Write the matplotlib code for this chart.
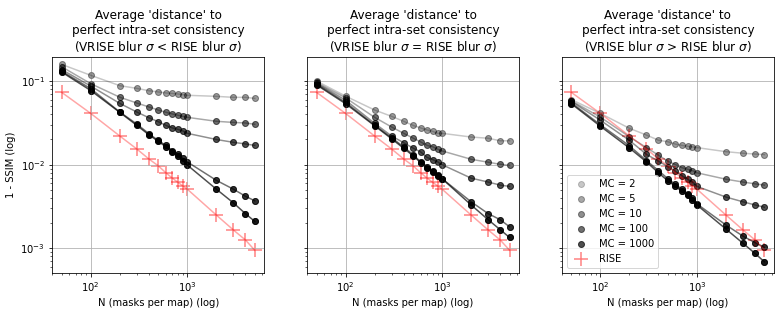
import matplotlib
matplotlib.use("Agg")
import matplotlib.pyplot as plt

N = [50, 100, 200, 300, 400, 500, 600, 700, 800, 900, 1000, 2000, 3000, 4000, 5000]

mc_labels = ["MC = 2", "MC = 5", "MC = 10", "MC = 100", "MC = 1000"]
mc_alphas = [0.22, 0.34, 0.44, 0.56, 0.69]

rise = [0.0732, 0.041, 0.022, 0.0154, 0.0117, 0.0097, 0.0080, 0.0069, 0.00615,
        0.00556, 0.0051, 0.0025, 0.00166, 0.00126, 0.00095]

# Panel 1: VRISE blur < RISE blur
p1_mc2 = [0.158, 0.117, 0.088, 0.0817, 0.0766, 0.074, 0.072, 0.071, 0.070, 0.0687, 0.0675, 0.0656, 0.0638, 0.0638, 0.062]
p1_mc5 = [0.148, 0.093, 0.064, 0.0546, 0.049, 0.045, 0.0423, 0.0404, 0.039, 0.0378, 0.0368, 0.033, 0.032, 0.0315, 0.0304]
p1_mc10 = [0.137, 0.087, 0.054, 0.0426, 0.0364, 0.0327, 0.0295, 0.0275, 0.0264, 0.0253, 0.0237, 0.020, 0.0185, 0.0177, 0.017]
p1_mc100 = [0.131, 0.081, 0.0426, 0.0306, 0.0235, 0.0195, 0.017, 0.0147, 0.0133, 0.0119, 0.0108, 0.0065, 0.0051, 0.0042, 0.0037]
p1_mc1000 = [0.128, 0.077, 0.0422, 0.0295, 0.0228, 0.019, 0.0164, 0.0143, 0.0127, 0.0112, 0.0099, 0.0051, 0.0035, 0.0026, 0.0021]

# Panel 2: VRISE blur = RISE blur
p2_mc2 = [0.100, 0.066, 0.045, 0.0378, 0.033, 0.0295, 0.0275, 0.026, 0.025, 0.0237, 0.0237, 0.0214, 0.0207, 0.0193, 0.0193]
p2_mc5 = [0.096, 0.063, 0.0368, 0.0282, 0.0237, 0.0208, 0.0187, 0.017, 0.0164, 0.0153, 0.0146, 0.0116, 0.0107, 0.0101, 0.0098]
p2_mc10 = [0.094, 0.059, 0.0312, 0.022, 0.0183, 0.0158, 0.0142, 0.0122, 0.0115, 0.0108, 0.0100, 0.0069, 0.0062, 0.0057, 0.0055]
p2_mc100 = [0.092, 0.0556, 0.0297, 0.021, 0.0163, 0.0132, 0.0108, 0.0095, 0.0083, 0.0075, 0.0068, 0.0036, 0.0026, 0.0022, 0.00181]
p2_mc1000 = [0.090, 0.0536, 0.0292, 0.0204, 0.0157, 0.0128, 0.0106, 0.0091, 0.0081, 0.0073, 0.0068, 0.0033, 0.0022, 0.00167, 0.00135]

# Panel 3: VRISE blur > RISE blur
p3_mc2 = [0.060, 0.041, 0.0272, 0.0226, 0.0196, 0.0188, 0.0176, 0.0170, 0.0166, 0.0163, 0.0160, 0.0143, 0.0137, 0.0134, 0.0132]
p3_mc5 = [0.058, 0.037, 0.0215, 0.0160, 0.0130, 0.0110, 0.0100, 0.0092, 0.0088, 0.0085, 0.0080, 0.0067, 0.0062, 0.0059, 0.0057]
p3_mc10 = [0.057, 0.034, 0.0195, 0.0133, 0.0110, 0.0095, 0.0083, 0.0074, 0.0067, 0.0062, 0.0055, 0.0041, 0.0036, 0.0033, 0.0031]
p3_mc100 = [0.055, 0.030, 0.0168, 0.0112, 0.0085, 0.0068, 0.0058, 0.0051, 0.0045, 0.0040, 0.0034, 0.0019, 0.0014, 0.00117, 0.00103]
p3_mc1000 = [0.0535, 0.0288, 0.0158, 0.0108, 0.0080, 0.0064, 0.0055, 0.0048, 0.0043, 0.0038, 0.0033, 0.0017, 0.00115, 0.00087, 0.00069]

titles = [
    "Average 'distance' to\nperfect intra-set consistency\n(VRISE blur $\\sigma$ < RISE blur $\\sigma$)",
    "Average 'distance' to\nperfect intra-set consistency\n(VRISE blur $\\sigma$ = RISE blur $\\sigma$)",
    "Average 'distance' to\nperfect intra-set consistency\n(VRISE blur $\\sigma$ > RISE blur $\\sigma$)",
]

panels = [
    [p1_mc2, p1_mc5, p1_mc10, p1_mc100, p1_mc1000],
    [p2_mc2, p2_mc5, p2_mc10, p2_mc100, p2_mc1000],
    [p3_mc2, p3_mc5, p3_mc10, p3_mc100, p3_mc1000],
]

DPI = 72
fig, axes = plt.subplots(1, 3, figsize=(779 / DPI, 315 / DPI), dpi=DPI, sharey=True)
fig.subplots_adjust(left=0.0668, right=0.9936, bottom=0.1333, top=0.819, wspace=0.2)

for ax, series, title in zip(axes, panels, titles):
    for ys, lab, a in zip(series, mc_labels, mc_alphas):
        ax.plot(N, ys, "-o", color="k", alpha=a, lw=1.5, ms=6)
        ax.scatter(N, ys, color="k", alpha=a, s=36, label=lab)
    ax.plot(N, rise, "-", color="red", alpha=0.35, lw=1.5)
    ax.scatter(N, rise, color="red", alpha=0.5, marker="+", s=170, label="RISE")
    ax.set_xscale("log")
    ax.set_yscale("log")
    ax.grid(True)
    ax.set_title(title)
    ax.set_xlabel("N (masks per map) (log)")

axes[0].set_ylim(5.07e-4, 0.1936)
axes[0].set_ylabel("1 - SSIM (log)")
axes[2].legend(loc="lower left")

fig.savefig("out.png", dpi=DPI)
